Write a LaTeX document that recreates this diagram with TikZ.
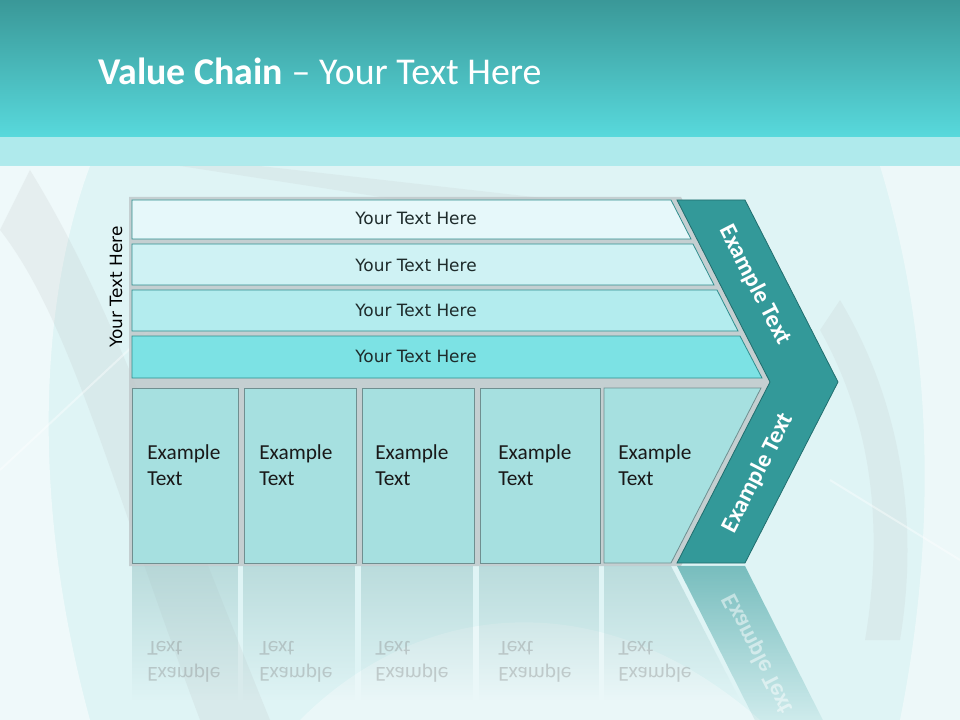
\documentclass[tikz,border=0pt]{standalone}
\usepackage{fontspec}
\setmainfont{Carlito}
\newfontfamily\barfont{DejaVu Sans}
\usetikzlibrary{positioning,calc,fadings}
\definecolor{hdtop}{HTML}{3A9898}
\definecolor{hdbot}{HTML}{58D9DC}
\definecolor{bgc}{HTML}{DFF4F5}
\definecolor{gapc}{HTML}{BEC6C8}
\definecolor{chev}{HTML}{339999}
\definecolor{chevdk}{HTML}{206E6E}
\definecolor{rowA}{HTML}{E6F8FA}
\definecolor{rowB}{HTML}{CFF2F4}
\definecolor{rowC}{HTML}{B3ECEE}
\definecolor{rowD}{HTML}{7CE2E4}
\definecolor{rowln}{HTML}{2F8E8E}
\definecolor{colfill}{HTML}{A6E0E0}
\definecolor{colln}{HTML}{6F8F90}
\definecolor{txtdk}{HTML}{1E2B2B}

\begin{document}
\begin{tikzpicture}[x=0.75pt,y=-0.75pt,node distance=3.9pt,
 row/.style={draw=rowln,line width=0.6pt},
 col/.style={draw=colln,fill=colfill,line width=0.6pt,inner sep=0pt,minimum height=131.25pt},
 rowtxt/.style={font=\barfont\fontsize{12.7}{15}\selectfont,text=txtdk,inner sep=0pt},
 coltxt/.style={font=\fontsize{16}{19.5}\selectfont,align=left,anchor=north west,inner sep=0pt,text=black!90},
 chevtxt/.style={font=\bfseries\fontsize{18}{20}\selectfont,text=white,inner sep=0pt},
 refl/.style={fill=colfill!75!gray,path fading=south,opacity=0.55}]
 \useasboundingbox (0,0) rectangle (960,720);
 \clip (0,0) rectangle (960,720);
 % background and streaks
 \fill[bgc] (0,0) rectangle (960,720);
 \fill[white,opacity=0.5] (0,166) -- (90,166) .. controls (40,300) and (30,500) .. (90,720) -- (0,720) -- cycle;
 \fill[gray!60,opacity=0.15] (30,170) .. controls (110,300) and (160,450) .. (270,720) -- (200,720) .. controls (110,480) and (70,320) .. (0,230) -- cycle;
 \fill[gray!60,opacity=0.12] (840,300) .. controls (900,400) and (920,520) .. (900,640) -- (865,640) .. controls (885,520) and (870,420) .. (820,330) -- cycle;
 \fill[white,opacity=0.45] (880,166) -- (960,166) -- (960,720) -- (900,720) .. controls (940,520) and (930,330) .. (880,166) -- cycle;
 \fill[white,opacity=0.35] (300,720) .. controls (420,600) and (600,580) .. (760,720) -- cycle;
 \fill[gray!60,opacity=0.12] (180,166) -- (260,166) -- (560,200) -- (400,200) -- cycle;
 \draw[white,opacity=0.4,line width=1.5pt] (0,470) -- (150,330);
 \draw[white,opacity=0.4,line width=1.5pt] (830,480) -- (960,560);
 % header
 \shade[top color=hdtop,bottom color=hdbot] (0,0) rectangle (960,137);
 \fill[hdbot,opacity=0.35] (0,137) rectangle (960,166);
 \node[font=\fontsize{28.4}{32}\selectfont,text=white,anchor=base west,inner sep=0pt] (title) at (98,85)
  {\textbf{Value Chain} -- Your Text Here};
 % backing
 \fill[gapc,opacity=0.8] (129,197) -- (681,197) -- (773,382) -- (681,566) -- (129,566) -- cycle;
 % rows
 \fill[rowA,row] (132,200) -- (671,200) -- (691,239) -- (132,239) -- cycle;
 \fill[rowB,row] (132,244) -- (693,244) -- (714,285) -- (132,285) -- cycle;
 \fill[rowC,row] (132,290) -- (717,290) -- (738,331) -- (132,331) -- cycle;
 \fill[rowD,row] (132,336) -- (740,336) -- (762,378) -- (132,378) -- cycle;
 \node[rowtxt] (bar1) at (416,218.5) {Your Text Here};
 \node[rowtxt] (bar2) at (416,265) {Your Text Here};
 \node[rowtxt] (bar3) at (416,310.5) {Your Text Here};
 \node[rowtxt] (bar4) at (416,356) {Your Text Here};
 \node[rowtxt,rotate=90,text=black] (side) at (116,287) {Your Text Here};
 % columns
 \node[col,anchor=north west,minimum width=79.5pt] (col1) at (132,388) {};
 \node[col,minimum width=84pt,right=of col1] (col2) {};
 \node[col,minimum width=84pt,right=of col2] (col3) {};
 \node[col,minimum width=90pt,right=of col3] (col4) {};
 \filldraw[fill=colfill,draw=colln,line width=0.6pt] (604,388) -- (761,388) -- (671,563) -- (604,563) -- cycle;
 \node[coltxt] (t1) at (147,444) {Example\\Text};
 \node[coltxt] (t2) at (259,444) {Example\\Text};
 \node[coltxt] (t3) at (375,444) {Example\\Text};
 \node[coltxt] (t4) at (498,444) {Example\\Text};
 \node[coltxt] (t5) at (618,444) {Example\\Text};
 % chevron
 \filldraw[fill=chev,draw=chevdk,line width=0.6pt] (677,200) -- (745,200) -- (838,382) -- (745,563) -- (677,563) -- (770,382) -- cycle;
 \node[chevtxt,rotate=-62.9] (chevA) at (755,285) {Example Text};
 \node[chevtxt,rotate=62.9] (chevB) at (758,473) {Example Text};
 % reflection
 \fill[refl] (132,566) rectangle (238,700);
 \fill[refl] (243,566) rectangle (355,700);
 \fill[refl] (361,566) rectangle (473,700);
 \fill[refl] (479,566) rectangle (599,700);
 \fill[refl] (604,566) -- (671,566) -- (740,700) -- (604,700) -- cycle;
 \fill[chev,path fading=south,opacity=0.6] (677,566) -- (745,566) -- (838,750) -- (770,750) -- cycle;
 \foreach \xx in {147,259,375,498,618}
  \node[coltxt,yscale=-1,text=gray,opacity=0.35] at (\xx,683) {Example\\Text};
 \node[chevtxt,rotate=-62.9,yscale=-1,opacity=0.5] (chevR) at (758,654) {Example Text};
\end{tikzpicture}
\end{document}
